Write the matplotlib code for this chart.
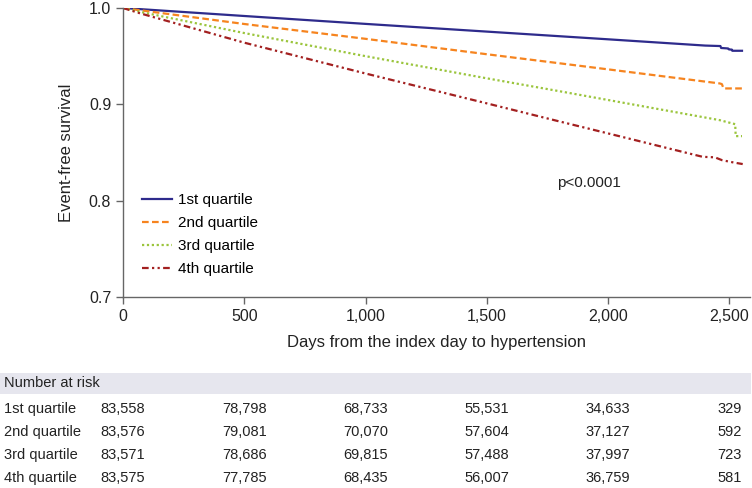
import matplotlib
matplotlib.use('Agg')
import matplotlib.pyplot as plt
import matplotlib.transforms as mtransforms
from matplotlib.patches import Rectangle
from matplotlib.ticker import FuncFormatter

plt.rcParams['font.family'] = ['Liberation Sans', 'DejaVu Sans']

# Kaplan-Meier curves (days, event-free survival)
q1_days = [0, 500, 1000, 1500, 1800, 2000, 2400, 2463, 2466, 2495, 2498, 2510, 2512, 2552]
q1_surv = [1.0, 0.9917, 0.9835, 0.9755, 0.9707, 0.9675, 0.9610, 0.9605, 0.9585, 0.9580, 0.9570, 0.9568, 0.9556, 0.9556]

q2_days = [0, 500, 1000, 1500, 1800, 2000, 2460, 2469, 2476, 2552]
q2_surv = [1.0, 0.9834, 0.9680, 0.9520, 0.9426, 0.9363, 0.9217, 0.9210, 0.9165, 0.9165]

q3_days = [0, 70, 500, 1000, 1500, 1800, 2000, 2460, 2524, 2526, 2552]
q3_surv = [1.0, 0.9960, 0.9740, 0.9500, 0.9270, 0.9136, 0.9045, 0.8836, 0.8794, 0.8670, 0.8670]

q4_days = [0, 70, 500, 1000, 1500, 1800, 2000, 2390, 2440, 2470, 2520, 2555]
q4_surv = [1.0, 0.9945, 0.9640, 0.9320, 0.9010, 0.8822, 0.8698, 0.8455, 0.8450, 0.8420, 0.8395, 0.8380]

labels = ['1st quartile', '2nd quartile', '3rd quartile', '4th quartile']
colors = ['#2e2b8c', '#f6841f', '#9bc53d', '#a32020']

# number at risk table
risk_days = [0, 500, 1000, 1500, 2000, 2500]
risk_q1 = ['83,558', '78,798', '68,733', '55,531', '34,633', '329']
risk_q2 = ['83,576', '79,081', '70,070', '57,604', '37,127', '592']
risk_q3 = ['83,571', '78,686', '69,815', '57,488', '37,997', '723']
risk_q4 = ['83,575', '77,785', '68,435', '56,007', '36,759', '581']

fig = plt.figure(figsize=(7.52, 4.88), dpi=100)
ax = fig.add_axes([123 / 752, 1 - 297 / 488, 627 / 752, 289 / 488])

curves = [(q1_days, q1_surv), (q2_days, q2_surv), (q3_days, q3_surv), (q4_days, q4_surv)]
styles = [dict(linestyle='-'),
          dict(dashes=(3, 1.5)),
          dict(dashes=(1, 1.2)),
          dict(dashes=(3, 1.5, 1, 1.5, 1, 1.5))]
for (d, s), lab, c, st in zip(curves, labels, colors, styles):
    ax.plot(d, s, color=c, lw=1.6, label=lab, **st)

ax.set_xlim(0, 2585)
ax.set_ylim(0.7, 1.0)
ax.set_xticks([0, 500, 1000, 1500, 2000, 2500])
ax.set_yticks([0.7, 0.8, 0.9, 1.0])
ax.xaxis.set_major_formatter(FuncFormatter(lambda v, p: f'{int(v):,}'))
ax.yaxis.set_major_formatter(FuncFormatter(lambda v, p: f'{v:.1f}'))
for sp in ['top', 'right']:
    ax.spines[sp].set_visible(False)
for sp in ['left', 'bottom']:
    ax.spines[sp].set_color('#666666')
    ax.spines[sp].set_linewidth(1.0)
ax.tick_params(axis='both', colors='#666666', labelcolor='#222222', labelsize=11.5, length=5, width=1)
ax.set_xlabel('Days from the index day to hypertension', fontsize=12, color='#222222', labelpad=8)
ax.set_ylabel('Event-free survival', fontsize=12, color='#222222', labelpad=11)

ax.text(1922, 0.818, 'p<0.0001', fontsize=11, color='#222222', ha='center', va='center')

ax.legend(loc='upper left', bbox_to_anchor=(0.03, 0.36), frameon=False, fontsize=11,
          handlelength=1.95, handletextpad=0.45, labelspacing=0.6, borderpad=0, borderaxespad=0)

# number-at-risk table below the plot
fig.patches.append(Rectangle((0, 1 - 394 / 488), 751 / 752, 21 / 488, transform=fig.transFigure,
                             facecolor='#e6e6ee', edgecolor='none', zorder=0))
fig.text(4 / 752, 1 - 383 / 488, 'Number at risk', fontsize=10.5, color='#222222', va='center')

blend = mtransforms.blended_transform_factory(ax.transData, fig.transFigure)
row_y = [409, 432, 455, 478]
for lab, row, y in zip(labels, [risk_q1, risk_q2, risk_q3, risk_q4], row_y):
    fig.text(4 / 752, 1 - y / 488, lab, fontsize=10.5, color='#222222', va='center')
    for d, v in zip(risk_days, row):
        ax.text(d, 1 - y / 488, v, transform=blend, fontsize=10.5, color='#222222',
                ha='center', va='center', clip_on=False)

fig.savefig('out.png', dpi=100)
